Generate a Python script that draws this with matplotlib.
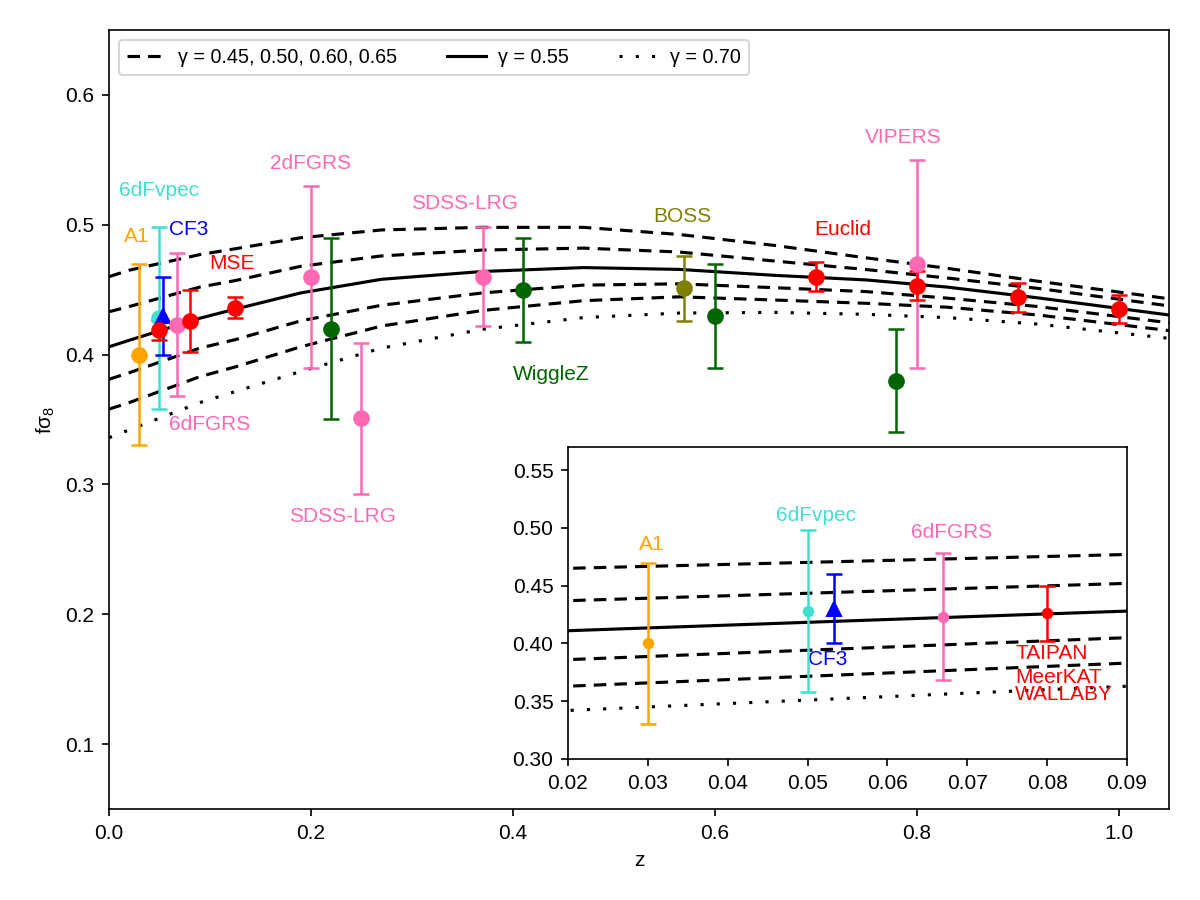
import matplotlib
matplotlib.use("Agg")
import matplotlib.pyplot as plt
from matplotlib.ticker import FormatStrFormatter

plt.rcParams['font.family'] = ['Liberation Sans', 'DejaVu Sans']
plt.rcParams['font.size'] = 10
plt.rcParams['mathtext.default'] = 'regular'

# growth-rate model curves
z_curve = [0.0, 0.02, 0.09, 0.125, 0.19, 0.27, 0.37, 0.47, 0.565, 0.66, 0.75, 0.83, 0.92, 1.05]
g045 = [0.460, 0.465, 0.477, 0.4815, 0.490, 0.496, 0.498, 0.498, 0.4925, 0.484, 0.4745, 0.4665, 0.4565, 0.443]
g050 = [0.433, 0.437, 0.452, 0.457, 0.468, 0.476, 0.4805, 0.482, 0.479, 0.472, 0.4655, 0.459, 0.451, 0.4375]
g055 = [0.406, 0.411, 0.428, 0.435, 0.4475, 0.458, 0.464, 0.467, 0.4656, 0.461, 0.4575, 0.452, 0.4437, 0.4305]
g060 = [0.381, 0.386, 0.405, 0.4115, 0.426, 0.438, 0.4475, 0.4535, 0.4545, 0.4515, 0.4485, 0.4435, 0.437, 0.4245]
g065 = [0.358, 0.363, 0.383, 0.3905, 0.406, 0.422, 0.434, 0.4415, 0.4445, 0.442, 0.4395, 0.4365, 0.4305, 0.4185]
g070 = [0.336, 0.342, 0.363, 0.3715, 0.387, 0.405, 0.4195, 0.4285, 0.432, 0.4325, 0.431, 0.4285, 0.4235, 0.4125]

# measurements: (z, fsigma8, error)
a1_z, a1_f, a1_e = [0.03], [0.40], [0.07]
vpec_z, vpec_f, vpec_e = [0.05], [0.428], [0.07]
cf3_z, cf3_f, cf3_e = [0.0533], [0.43], [0.03]
sixdf_z, sixdf_f, sixdf_e = [0.067], [0.423], [0.055]
taipan_z, taipan_f, taipan_e = [0.08], [0.426], [0.024]
mse_z, mse_f, mse_e = [0.05, 0.125], [0.419, 0.436], [0.008, 0.008]
pink_z = [0.2, 0.25, 0.37, 0.8]          # 2dFGRS, SDSS-LRG, SDSS-LRG, VIPERS
pink_f = [0.46, 0.351, 0.46, 0.47]
pink_e = [0.07, 0.058, 0.038, 0.08]
wigglez_z, wigglez_f, wigglez_e = [0.22, 0.41, 0.60, 0.78], [0.42, 0.45, 0.43, 0.38], [0.07, 0.04, 0.04, 0.04]
boss_z, boss_f, boss_e = [0.57], [0.451], [0.025]
euclid_z = [0.7, 0.8, 0.9, 1.0]
euclid_f = [0.46, 0.453, 0.444, 0.435]
euclid_e = [0.011, 0.011, 0.011, 0.011]

fig = plt.figure(figsize=(8, 6), dpi=150)
ax = fig.add_axes([109 / 1200, 1 - 809 / 900, 1060 / 1200, 779 / 900])

dash = (0, (4, 2.6))
dot = (0, (1, 4.2))


def curves(a):
    for g in [g045, g050, g060, g065]:
        a.plot(z_curve, g, color='black', lw=1.5, linestyle=dash)
    a.plot(z_curve, g055, color='black', lw=1.5)
    a.plot(z_curve, g070, color='black', lw=1.5, linestyle=dot)


curves(ax)
ax.plot([], [], color='black', lw=1.5, linestyle=dash, label='γ = 0.45, 0.50, 0.60, 0.65')
ax.plot([], [], color='black', lw=1.5, label='γ = 0.55')
ax.plot([], [], color='black', lw=1.5, linestyle=dot, label='γ = 0.70')

eb = dict(capsize=4, elinewidth=1.2, capthick=1.2, markersize=7, zorder=5)
ax.errorbar(a1_z, a1_f, yerr=a1_e, fmt='o', color='orange', **eb)
ax.errorbar(vpec_z, vpec_f, yerr=vpec_e, fmt='o', color='turquoise', **eb)
ax.errorbar(cf3_z, cf3_f, yerr=cf3_e, fmt='^', color='blue', **eb)
ax.errorbar(mse_z, mse_f, yerr=mse_e, fmt='o', color='red', **eb)
ax.errorbar(sixdf_z, sixdf_f, yerr=sixdf_e, fmt='o', color='hotpink', **eb)
ax.errorbar(taipan_z, taipan_f, yerr=taipan_e, fmt='o', color='red', **eb)
ax.errorbar(pink_z, pink_f, yerr=pink_e, fmt='o', color='hotpink', **eb)
ax.errorbar(wigglez_z, wigglez_f, yerr=wigglez_e, fmt='o', color='darkgreen', **eb)
ax.errorbar(boss_z, boss_f, yerr=boss_e, fmt='o', color='olive', **eb)
ax.errorbar(euclid_z, euclid_f, yerr=euclid_e, fmt='o', color='red', **eb)

txt = dict(ha='center', va='center', fontsize=10)
ax.text(0.027, 0.491, 'A1', color='orange', **txt)
ax.text(0.05, 0.526, '6dFvpec', color='turquoise', **txt)
ax.text(0.079, 0.496, 'CF3', color='blue', **txt)
ax.text(0.1215, 0.470, 'MSE', color='red', **txt)
ax.text(0.0998, 0.346, '6dFGRS', color='hotpink', **txt)
ax.text(0.2, 0.547, '2dFGRS', color='hotpink', **txt)
ax.text(0.231, 0.275, 'SDSS-LRG', color='hotpink', **txt)
ax.text(0.352, 0.5165, 'SDSS-LRG', color='hotpink', **txt)
ax.text(0.568, 0.506, 'BOSS', color='olive', **txt)
ax.text(0.438, 0.385, 'WiggleZ', color='darkgreen', **txt)
ax.text(0.727, 0.496, 'Euclid', color='red', **txt)
ax.text(0.787, 0.567, 'VIPERS', color='hotpink', **txt)

ax.set_xlim(0, 1.05)
ax.set_ylim(0.05, 0.65)
ax.set_xticks([0.0, 0.2, 0.4, 0.6, 0.8, 1.0])
ax.set_yticks([0.1, 0.2, 0.3, 0.4, 0.5, 0.6])
ax.xaxis.set_major_formatter(FormatStrFormatter('%.1f'))
ax.yaxis.set_major_formatter(FormatStrFormatter('%.1f'))
ax.set_xlabel('z')
ax.set_ylabel('fσ$_8$')
ax.legend(loc='upper left', ncol=3, fontsize=9.5, columnspacing=2.5, handletextpad=0.6)

# inset zoom on the low-z points
ins = fig.add_axes([568 / 1200, 1 - 759 / 900, 559 / 1200, 312 / 900])
curves(ins)
eb2 = dict(capsize=4, elinewidth=1.2, capthick=1.2, markersize=4.5, zorder=5)
ins.errorbar(a1_z, a1_f, yerr=a1_e, fmt='o', color='orange', **eb2)
ins.errorbar(vpec_z, vpec_f, yerr=vpec_e, fmt='o', color='turquoise', **eb2)
ins.errorbar(cf3_z, cf3_f, yerr=cf3_e, fmt='^', color='blue', capsize=4, elinewidth=1.2,
             capthick=1.2, markersize=7, zorder=5)
ins.errorbar(sixdf_z, sixdf_f, yerr=sixdf_e, fmt='o', color='hotpink', **eb2)
ins.errorbar(taipan_z, taipan_f, yerr=taipan_e, fmt='o', color='red', **eb2)
ins.text(0.0305, 0.4855, 'A1', color='orange', **txt)
ins.text(0.0511, 0.5107, '6dFvpec', color='turquoise', **txt)
ins.text(0.0681, 0.4962, '6dFGRS', color='hotpink', **txt)
ins.text(0.0525, 0.3858, 'CF3', color='blue', **txt)
ins.text(0.076, 0.3916, 'TAIPAN', color='red', ha='left', va='center')
ins.text(0.076, 0.3708, 'MeerKAT', color='red', ha='left', va='center')
ins.text(0.076, 0.3555, 'WALLABY', color='red', ha='left', va='center')
ins.set_xlim(0.02, 0.09)
ins.set_ylim(0.30, 0.57)
ins.set_xticks([0.02, 0.03, 0.04, 0.05, 0.06, 0.07, 0.08, 0.09])
ins.set_yticks([0.30, 0.35, 0.40, 0.45, 0.50, 0.55])
ins.yaxis.set_major_formatter(FormatStrFormatter('%.2f'))

fig.savefig('out.png', dpi=150)
